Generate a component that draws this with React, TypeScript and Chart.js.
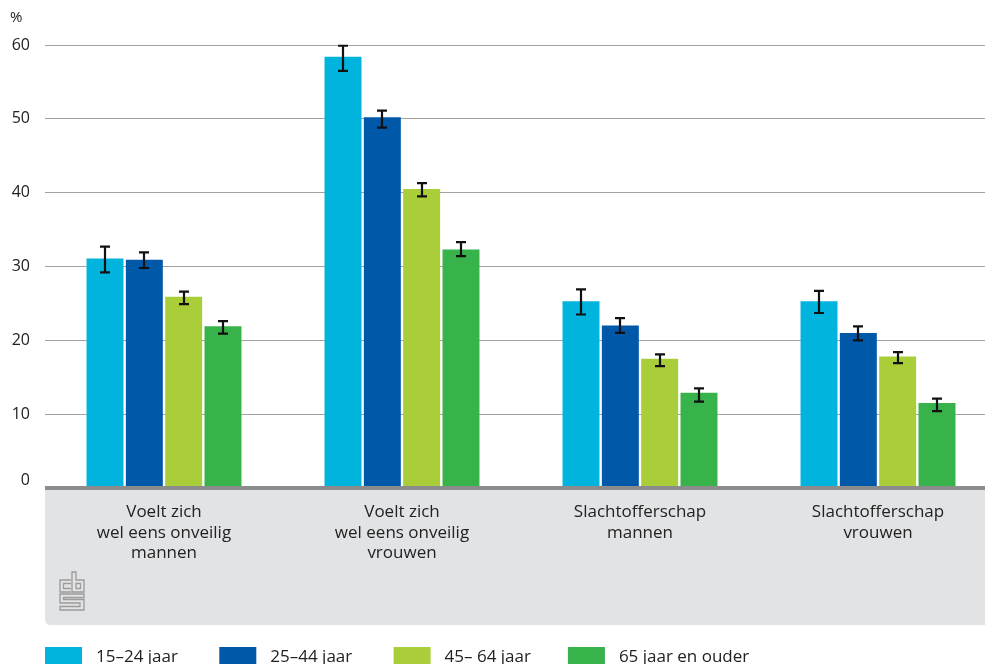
import React, { useEffect, useRef } from "react";
import { Chart, registerables } from "chart.js";

Chart.register(...registerables);

const categories: string[][] = [
  ["Voelt zich", "wel eens onveilig", "mannen"],
  ["Voelt zich", "wel eens onveilig", "vrouwen"],
  ["Slachtofferschap", "mannen"],
  ["Slachtofferschap", "vrouwen"],
];

const seriesLabels = ["15–24 jaar", "25–44 jaar", "45– 64 jaar", "65 jaar en ouder"];
const seriesColors = ["#00b4de", "#0058a8", "#aace3a", "#38b24a"];

const age15_24 = [31.1, 58.4, 25.3, 25.3];
const age15_24Low = [29.2, 56.5, 23.5, 23.7];
const age15_24High = [32.7, 59.9, 26.9, 26.7];

const age25_44 = [30.9, 50.2, 22.0, 21.0];
const age25_44Low = [29.8, 48.8, 21.0, 20.0];
const age25_44High = [31.9, 51.1, 23.0, 21.9];

const age45_64 = [25.9, 40.5, 17.5, 17.8];
const age45_64Low = [24.9, 39.5, 16.5, 16.9];
const age45_64High = [26.6, 41.3, 18.1, 18.4];

const age65plus = [21.9, 32.3, 12.9, 11.5];
const age65plusLow = [20.9, 31.4, 11.7, 10.4];
const age65plusHigh = [22.6, 33.3, 13.5, 12.1];

const yTicks = [0, 10, 20, 30, 40, 50, 60];
const yUnit = "%";

const seriesValues = [age15_24, age25_44, age45_64, age65plus];
const seriesLow = [age15_24Low, age25_44Low, age45_64Low, age65plusLow];
const seriesHigh = [age15_24High, age25_44High, age45_64High, age65plusHigh];

const FONT = "'Open Sans', sans-serif";
const TEXT = "#222222";

const customPlugin = {
  id: "cbsDecor",
  beforeDatasetsDraw(chart: any) {
    const { ctx, chartArea, width } = chart;
    const left = chartArea.left;
    const top = chartArea.bottom + 2;
    const bottom = 625;
    const r = 6;
    ctx.save();
    ctx.fillStyle = "#e2e3e5";
    ctx.beginPath();
    ctx.moveTo(left, top);
    ctx.lineTo(width, top);
    ctx.lineTo(width, bottom);
    ctx.lineTo(left + r, bottom);
    ctx.quadraticCurveTo(left, bottom, left, bottom - r);
    ctx.closePath();
    ctx.fill();
    ctx.restore();
  },
  afterDatasetsDraw(chart: any) {
    const { ctx, chartArea, width, scales } = chart;
    const xs = scales.x;
    const ys = scales.y;
    ctx.save();
    // error bars
    ctx.strokeStyle = "#111111";
    ctx.lineWidth = 2.2;
    chart.data.datasets.forEach((ds: any, di: number) => {
      const meta = chart.getDatasetMeta(di);
      meta.data.forEach((el: any, i: number) => {
        const x = Math.round(el.x);
        const yl = ys.getPixelForValue(seriesLow[di][i]);
        const yh = ys.getPixelForValue(seriesHigh[di][i]);
        ctx.beginPath();
        ctx.moveTo(x, yl);
        ctx.lineTo(x, yh);
        ctx.moveTo(x - 5, yl);
        ctx.lineTo(x + 5, yl);
        ctx.moveTo(x - 5, yh);
        ctx.lineTo(x + 5, yh);
        ctx.stroke();
      });
    });
    // axis line
    ctx.strokeStyle = "#8c8c8c";
    ctx.lineWidth = 4;
    ctx.beginPath();
    ctx.moveTo(chartArea.left, chartArea.bottom);
    ctx.lineTo(width, chartArea.bottom);
    ctx.stroke();

    // y tick labels
    ctx.fillStyle = TEXT;
    ctx.font = `16px ${FONT}`;
    ctx.textAlign = "right";
    ctx.textBaseline = "middle";
    yTicks.forEach((v) => {
      let y = ys.getPixelForValue(v);
      if (v === 0) y -= 8;
      ctx.fillText(String(v), chartArea.left - 15, y);
    });
    ctx.textAlign = "left";
    ctx.font = `15px ${FONT}`;
    ctx.fillText(yUnit, 10, 18);

    // category labels
    ctx.font = `17px ${FONT}`;
    ctx.textAlign = "center";
    categories.forEach((lines, i) => {
      const x = xs.getPixelForValue(i);
      lines.forEach((ln, k) => {
        ctx.fillText(ln, x, chartArea.bottom + 24 + k * 20.7);
      });
    });

    // cbs logo (outline)
    ctx.strokeStyle = "#9b9b9b";
    ctx.lineWidth = 1.3;
    ctx.beginPath();
    ctx.moveTo(71, 580); ctx.lineTo(60, 580); ctx.lineTo(60, 592); ctx.lineTo(71, 592);
    ctx.moveTo(71, 583.5); ctx.lineTo(63.5, 583.5); ctx.lineTo(63.5, 588.5); ctx.lineTo(71, 588.5);
    ctx.moveTo(72, 572); ctx.lineTo(76, 572); ctx.lineTo(76, 580); ctx.lineTo(84, 580);
    ctx.lineTo(84, 592); ctx.lineTo(72, 592); ctx.closePath();
    ctx.rect(76, 583.5, 4.5, 5);
    ctx.moveTo(84, 594); ctx.lineTo(60, 594); ctx.lineTo(60, 603); ctx.lineTo(80, 603);
    ctx.lineTo(80, 606.5); ctx.lineTo(60, 606.5); ctx.lineTo(60, 610); ctx.lineTo(84, 610);
    ctx.lineTo(84, 599.5); ctx.lineTo(63.5, 599.5); ctx.lineTo(63.5, 597.5); ctx.lineTo(84, 597.5);
    ctx.closePath();
    ctx.stroke();

    // legend
    ctx.font = `17px ${FONT}`;
    ctx.textAlign = "left";
    ctx.textBaseline = "middle";
    seriesLabels.forEach((lab, i) => {
      const bx = chartArea.left + i * 174.3;
      ctx.fillStyle = seriesColors[i];
      ctx.fillRect(bx, 647, 37, 17);
      ctx.fillStyle = TEXT;
      ctx.fillText(lab, bx + 51, 657);
    });
    ctx.restore();
  },
};

export default function App() {
  const ref = useRef<HTMLCanvasElement>(null);
  useEffect(() => {
    if (!ref.current) return;
    const chart = new Chart(ref.current, {
      type: "bar",
      data: {
        labels: categories.map((c) => c.join(" ")),
        datasets: seriesLabels.map((lab, i) => ({
          label: lab,
          data: seriesValues[i],
          backgroundColor: seriesColors[i],
          borderWidth: 0,
          categoryPercentage: 0.661,
          barPercentage: 0.94,
        })),
      },
      options: {
        animation: false,
        responsive: false,
        maintainAspectRatio: false,
        layout: { padding: { top: 45, left: 0, right: 0, bottom: 0 } },
        plugins: { legend: { display: false }, tooltip: { enabled: false } },
        scales: {
          x: {
            grid: { display: false, drawTicks: false },
            border: { display: false },
            ticks: { display: false },
            afterFit: (s: any) => { s.height = 176; },
          },
          y: {
            min: 0,
            max: 60,
            grid: { color: "#a3a3a3", lineWidth: 1, drawTicks: false },
            border: { display: false },
            ticks: { display: false, stepSize: 10 },
            afterFit: (s: any) => { s.width = 45; },
          },
        },
      },
      plugins: [customPlugin],
    });
    return () => chart.destroy();
  }, []);
  return (
    <div style={{ position: "fixed", left: 0, top: 0, width: 985, height: 664, overflow: "hidden", background: "#fff" }}>
      <canvas ref={ref} width={997} height={664} style={{ width: 997, height: 664, display: "block" }} />
    </div>
  );
}
